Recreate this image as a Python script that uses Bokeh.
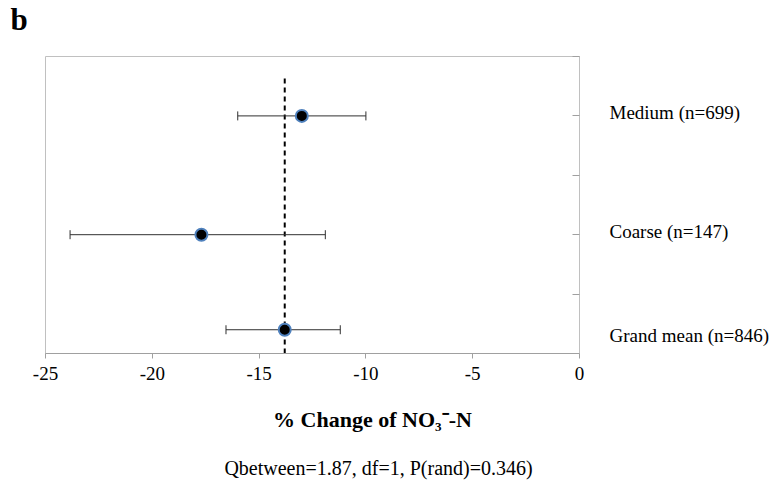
from math import pi
from bokeh.plotting import figure
from bokeh.models import Range1d, LinearAxis, FixedTicker, Label
from bokeh.embed import file_html
from bokeh.resources import INLINE

# ---- data ----
groups = ["Medium (n=699)", "Coarse (n=147)", "Grand mean (n=846)"]
ypos = [4, 2, 0.4]
means = [-13.0, -17.7, -13.8]
lower = [-16.0, -23.85, -16.55]
upper = [-10.0, -11.9, -11.2]
grand_mean = -13.8
dash_top = 4.66
xticks = [-25, -20, -15, -10, -5, 0]
xtick_labels = ["-25", "-20", "-15", "-10", "-5", "0"]
yticks = [0, 1, 2, 3, 4, 5]
label_shift = [0.06, 0.05, -0.10]
panel_letter = "b"
x_title = "% Change of NO\u2083\u207b-N"
stat_text = "Qbetween=1.87, df=1, P(rand)=0.346)"

SERIF = "Liberation Serif"

p = figure(width=771, height=484, output_backend="svg", toolbar_location=None,
           x_range=Range1d(-25, 0), y_range=Range1d(0, 5),
           y_axis_location=None,
           min_border_left=45, min_border_right=191,
           min_border_top=56, min_border_bottom=131)
p.xgrid.visible = False
p.ygrid.visible = False
p.outline_line_color = "#c0c0c0"
p.outline_line_width = 1
p.background_fill_color = "white"
p.border_fill_color = "white"

# bottom axis
xa = p.xaxis[0]
xa.ticker = FixedTicker(ticks=xticks)
xa.major_label_overrides = {t: s for t, s in zip(xticks, xtick_labels)}
xa.axis_line_color = "#a0a0a0"
xa.major_tick_line_color = "#a0a0a0"
xa.major_tick_in = 0
xa.major_tick_out = 5
xa.minor_tick_line_color = None
xa.major_label_text_font = SERIF
xa.major_label_text_font_size = "19px"
xa.major_label_text_color = "black"
xa.major_label_standoff = 8

# right axis: inner ticks (as minor ticks) + group names as labels
label_y = [y + d for y, d in zip(ypos, label_shift)]
ra = LinearAxis(ticker=FixedTicker(ticks=label_y, minor_ticks=yticks))
ra.major_label_overrides = {y: g for y, g in zip(label_y, groups)}
ra.axis_line_color = "#c0c0c0"
ra.major_tick_line_color = None
ra.major_tick_in = 0
ra.major_tick_out = 0
ra.minor_tick_line_color = "#a0a0a0"
ra.minor_tick_in = 7
ra.minor_tick_out = 0
ra.major_label_standoff = 30
ra.major_label_text_font = SERIF
ra.major_label_text_font_size = "19px"
ra.major_label_text_color = "black"
p.add_layout(ra, "right")

# panel letter (above panel, screen units relative to that panel)
p.add_layout(Label(x=-35, y=37, x_units="screen", y_units="screen",
                   text=panel_letter, text_font=SERIF, text_font_size="31px",
                   text_font_style="bold", text_color="black",
                   text_align="left", text_baseline="alphabetic"), "above")

# x title and statistics text (below panel)
p.add_layout(Label(x=327, y=-12, x_units="screen", y_units="screen",
                   text=x_title, text_font=SERIF, text_font_size="22px",
                   text_font_style="bold", text_color="black",
                   text_align="center", text_baseline="middle"), "below")
p.add_layout(Label(x=333, y=-38, x_units="screen", y_units="screen",
                   text=stat_text, text_font=SERIF, text_font_size="20px",
                   text_color="black", text_align="center",
                   text_baseline="middle"), "below")

# dashed grand-mean line
p.segment(x0=[grand_mean], y0=[0], x1=[grand_mean], y1=[dash_top],
          line_color="black", line_width=2, line_dash="5 4")

# error bars
p.segment(x0=lower, y0=ypos, x1=upper, y1=ypos, line_color="#303030", line_width=1)
p.scatter(x=lower + upper, y=ypos + ypos, marker="dash", angle=pi / 2, size=9,
          line_color="#303030", line_width=1)

# points
p.scatter(x=means, y=ypos, size=12, fill_color="black",
          line_color="#4f81bd", line_width=2)

open("out.html", "w").write(file_html(p, INLINE))
